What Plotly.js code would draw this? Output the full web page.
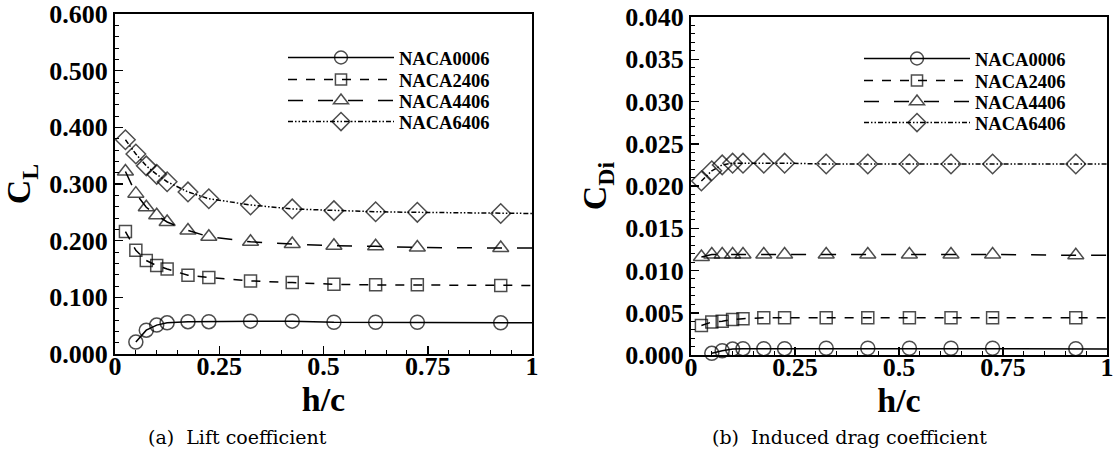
<!DOCTYPE html>
<html>
<head>
<meta charset="utf-8">
<script src="https://cdn.plot.ly/plotly-3.0.1.min.js"></script>
<style>html,body{margin:0;padding:0;background:#fff;}#chart{width:1119px;height:455px;}</style>
</head>
<body>
<div id="chart"></div>
<script>
// ---- data ----
var seriesNames = ['NACA0006', 'NACA2406', 'NACA4406', 'NACA6406'];
var hc = [0.025, 0.05, 0.075, 0.1, 0.125, 0.175, 0.225, 0.325, 0.425, 0.525, 0.625, 0.725, 0.925, 1.0];
var hc0006 = [0.05, 0.075, 0.1, 0.125, 0.175, 0.225, 0.325, 0.425, 0.525, 0.625, 0.725, 0.925, 1.0];

var CL_0006 = [0.021, 0.042, 0.051, 0.055, 0.057, 0.057, 0.058, 0.058, 0.056, 0.056, 0.056, 0.055, 0.055];
var CL_2406 = [0.216, 0.183, 0.165, 0.156, 0.150, 0.139, 0.135, 0.129, 0.126, 0.123, 0.122, 0.122, 0.121, 0.121];
var CL_4406 = [0.322, 0.283, 0.259, 0.245, 0.233, 0.218, 0.207, 0.198, 0.194, 0.191, 0.190, 0.188, 0.187, 0.187];
var CL_6406 = [0.378, 0.353, 0.332, 0.317, 0.304, 0.286, 0.274, 0.263, 0.256, 0.253, 0.251, 0.250, 0.248, 0.248];

var CDi_0006 = [0.0002, 0.0005, 0.0007, 0.00075, 0.00075, 0.00075, 0.0008, 0.0008, 0.0008, 0.0008, 0.0008, 0.00075, 0.00072];
var CDi_2406 = [0.0035, 0.0039, 0.0040, 0.0042, 0.0043, 0.0044, 0.0044, 0.0044, 0.0044, 0.0044, 0.0044, 0.0044, 0.0044, 0.0044];
var CDi_4406 = [0.0116, 0.0119, 0.0119, 0.0119, 0.0119, 0.0119, 0.0119, 0.0119, 0.0119, 0.0119, 0.0119, 0.0119, 0.0118, 0.0118];
var CDi_6406 = [0.0206, 0.0218, 0.0225, 0.0227, 0.0227, 0.0227, 0.0227, 0.0226, 0.0226, 0.0226, 0.0226, 0.0226, 0.0226, 0.0226];

var xTickVals = [0, 0.25, 0.5, 0.75, 1];
var xTickText = ['0', '0.25', '0.5', '0.75', '1'];
var captions = ['(a)  Lift coefficient', '(b)  Induced drag coefficient'];

// ---- styles ----
var symbols = ['circle-open', 'square-open', 'triangle-up-open', 'diamond-open'];
var msizes = [14, 12, 14, 15];
var dashes = ['solid', 'dash', 'longdash', '5px,2px,1.5px,2px,1.5px,2px'];

function sizes(xs, s) {
  // markers on data points, none on the final x=1 line end
  return xs.map(function (v) { return v >= 1 ? 0 : s; });
}

function mk(i, xs, ys, xa, ya, leg) {
  return {
    type: 'scatter', mode: 'lines+markers', name: seriesNames[i],
    x: xs, y: ys, xaxis: xa, yaxis: ya, legend: leg,
    line: {color: '#000', width: 1.5, dash: dashes[i]},
    marker: {symbol: symbols[i], size: sizes(xs, msizes[i]), color: '#000', line: {color: '#000', width: 1.5}},
    cliponaxis: false
  };
}

var traces = [
  mk(0, hc0006, CL_0006, 'x', 'y', 'legend'),
  mk(1, hc, CL_2406, 'x', 'y', 'legend2'),
  mk(2, hc, CL_4406, 'x', 'y', 'legend3'),
  mk(3, hc, CL_6406, 'x', 'y', 'legend4'),
  mk(0, hc0006, CDi_0006, 'x2', 'y2', 'legend5'),
  mk(1, hc, CDi_2406, 'x2', 'y2', 'legend6'),
  mk(2, hc, CDi_4406, 'x2', 'y2', 'legend7'),
  mk(3, hc, CDi_6406, 'x2', 'y2', 'legend8')
];

var tickFont = {family: 'Liberation Serif', size: 26, color: '#000', weight: 'bold'};
var titleFont = {family: 'Liberation Serif', size: 34, color: '#000', weight: 'bold'};

function xax(domain, anchor) {
  return {
    domain: domain, anchor: anchor, range: [0, 1],
    showline: true, mirror: true, linecolor: '#000', linewidth: 2,
    ticks: 'inside', ticklen: 8, tickwidth: 1.5, tickcolor: '#000',
    tickvals: xTickVals, ticktext: xTickText, tickfont: tickFont,
    ticklabelstandoff: -12,
    minor: {dtick: 0.05, ticks: 'inside', ticklen: 4, tickwidth: 1, tickcolor: '#000'},
    showgrid: false, zeroline: false,
    title: {text: 'h/c', font: titleFont, standoff: 0}
  };
}
function yax(domain, anchor, rng, dt, mdt, fmt, title) {
  return {
    domain: domain, anchor: anchor, range: rng,
    showline: true, mirror: true, linecolor: '#000', linewidth: 2,
    ticks: 'inside', ticklen: 8, tickwidth: 1.5, tickcolor: '#000',
    dtick: dt, tick0: 0, tickformat: fmt, tickfont: tickFont,
    minor: {dtick: mdt, ticks: 'inside', ticklen: 4, tickwidth: 1, tickcolor: '#000'},
    showgrid: false, zeroline: false,
    title: {text: title, font: titleFont, standoff: 8}
  };
}

var legFont = {family: 'Liberation Serif', size: 18.5, color: '#000', weight: 'bold'};
var legRows = [58, 80, 101, 122];

function legendAt(px, row) {
  return {x: px / 1119, y: (455 - row) / 455, xanchor: 'left', yanchor: 'middle',
          bgcolor: 'rgba(0,0,0,0)', font: legFont, itemwidth: 106, borderwidth: 0};
}

var layout = {
  width: 1119, height: 455,
  margin: {l: 0, r: 0, t: 0, b: 0},
  paper_bgcolor: '#fff', plot_bgcolor: '#fff',
  showlegend: true,
  xaxis: xax([115 / 1119, 532 / 1119], 'y'),
  yaxis: yax([101 / 455, 441 / 455], 'x', [0, 0.6], 0.1, 0.02, '.3f', 'C<sub>L</sub>'),
  xaxis2: xax([691 / 1119, 1107 / 1119], 'y2'),
  yaxis2: yax([100 / 455, 438 / 455], 'x2', [0, 0.04], 0.005, 0.001, '.3f', 'C<sub>Di</sub>'),
  legend: legendAt(283, legRows[0]),
  legend2: legendAt(283, legRows[1]),
  legend3: legendAt(283, legRows[2]),
  legend4: legendAt(283, legRows[3]),
  legend5: legendAt(859, legRows[0] + 1),
  legend6: legendAt(859, legRows[1] + 1),
  legend7: legendAt(859, legRows[2] + 1),
  legend8: legendAt(859, legRows[3] + 1),
  annotations: [
    {text: captions[0], xref: 'paper', yref: 'paper', x: 237 / 1119, y: (455 - 437) / 455, xanchor: 'center', yanchor: 'middle',
     showarrow: false, font: {family: 'DejaVu Serif', size: 19, color: '#000'}},
    {text: captions[1], xref: 'paper', yref: 'paper', x: 849 / 1119, y: (455 - 437) / 455, xanchor: 'center', yanchor: 'middle',
     showarrow: false, font: {family: 'DejaVu Serif', size: 19, color: '#000'}}
  ]
};

Plotly.newPlot('chart', traces, layout, {displayModeBar: false, staticPlot: true});
</script>
</body>
</html>
